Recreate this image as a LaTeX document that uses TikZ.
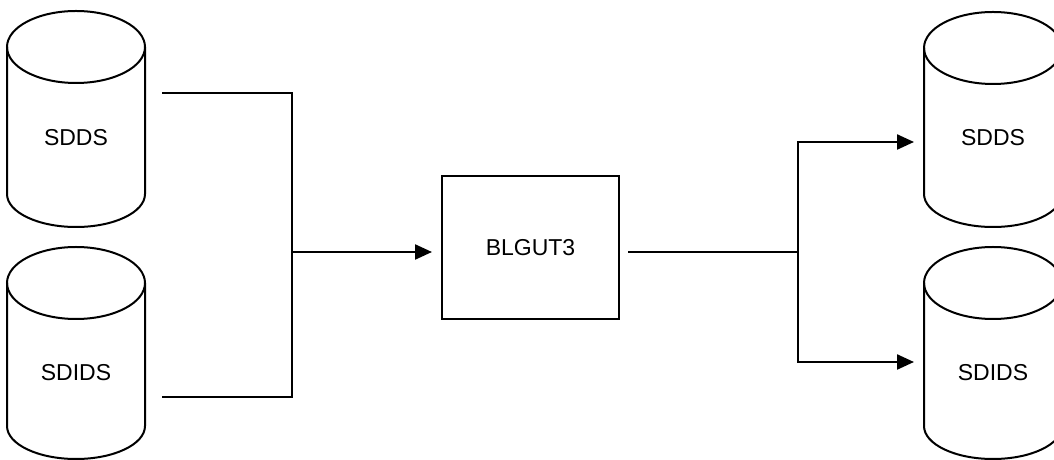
\documentclass[tikz,border=0pt]{standalone}
\usepackage{fontspec}
\setmainfont{Liberation Sans}
\usetikzlibrary{arrows.meta}
\tikzset{
  cyl/.style={line width=2pt, draw=black},
  conn/.style={line width=2.3pt, draw=black},
  arr/.style={conn, -{Triangle[length=17pt,width=15pt]}},
  lbl/.style={font=\fontsize{23}{27}\selectfont, inner sep=0pt},
  boxst/.style={draw=black, line width=2.3pt, minimum width=177pt, minimum height=143pt, font=\fontsize{23}{27}\selectfont}
}
% cylinder: center x, top y, bottom y (y up)
\newcommand\mycyl[3]{%
  \draw[cyl] (#1,#2-36) ellipse [x radius=69pt, y radius=36pt];
  \draw[cyl] (#1-69,#2-36) -- (#1-69,#3+33)
     arc [start angle=180, end angle=360, x radius=69pt, y radius=33pt]
     -- (#1+69,#2-36);
}
\begin{document}
\begin{tikzpicture}[x=1pt,y=1pt]
\useasboundingbox (0,0) rectangle (1054,460);
\mycyl{76}{449}{233}
\mycyl{76}{213}{1}
\mycyl{993}{448}{233}
\mycyl{993}{213}{1}
\node[lbl] (c1) at (76,322) {SDDS};
\node[lbl] (c2) at (76,87) {SDIDS};
\node[lbl] (c3) at (993,322) {SDDS};
\node[lbl] (c4) at (993,87) {SDIDS};
\node[boxst] (box) at (530.5,212.5) {BLGUT3};
% connectors
\coordinate (l1) at (162,367);
\coordinate (l2) at (162,63);
\coordinate (jl) at (292,208);
\coordinate (bin) at (432,208);
\coordinate (bout) at (628,208);
\coordinate (jr) at (798,208);
\coordinate (r1) at (914,318);
\coordinate (r2) at (914,98);
\draw[conn] (l1) -| (jl);
\draw[conn] (l2) -| (jl);
\draw[arr] (jl) -- (bin);
\draw[conn] (bout) -- (jr);
\draw[arr] (jr) |- (r1);
\draw[arr] (jr) |- (r2);
\end{tikzpicture}
\end{document}
